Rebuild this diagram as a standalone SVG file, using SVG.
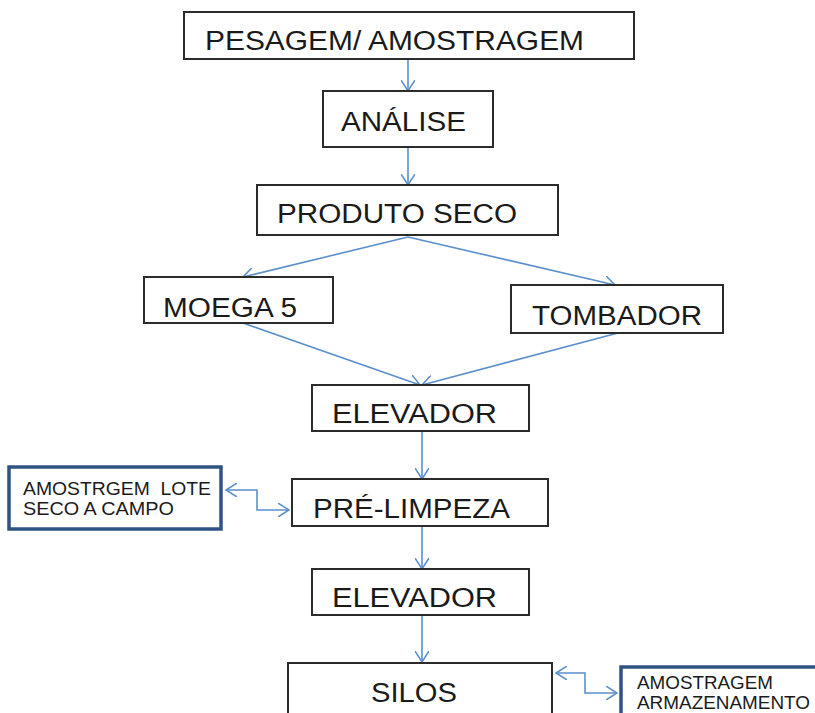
<svg xmlns="http://www.w3.org/2000/svg" width="815" height="713" viewBox="0 0 815 713">
<defs>
<marker id="arr" viewBox="0 0 12 14" refX="11" refY="7" markerWidth="12" markerHeight="14" markerUnits="userSpaceOnUse" orient="auto-start-reverse">
<path d="M0,0 L11,7 L0,14" fill="none" stroke="#5B8FCB" stroke-width="1.5"/>
</marker>
<style>
.box{fill:#fff;stroke:#2b2b2b;stroke-width:2}
.bbox{fill:#fff;stroke:#2F5383;stroke-width:3.5}
.t{font-family:"Liberation Sans",Arial,sans-serif;font-size:27px;fill:#1a1a1a}
.s{font-family:"Liberation Sans",Arial,sans-serif;font-size:18px;fill:#1a1a1a;white-space:pre}
.c{fill:none;stroke:#5B8FCB;stroke-width:1.6;marker-end:url(#arr)}
.d{fill:none;stroke:#5B8FCB;stroke-width:1.6;marker-end:url(#arr);marker-start:url(#arr)}
</style>
</defs>
<rect width="815" height="713" fill="#fff"/>
<g id="connectors">
<path class="c" d="M408,59 L408,91"/>
<path class="c" d="M408,147 L408,185"/>
<path class="c" d="M408,237 L243,277"/>
<path class="c" d="M408,237 L615,285"/>
<path class="c" d="M243,323 L420,385"/>
<path class="c" d="M618,333 L422,385"/>
<path class="c" d="M422,431 L422,479"/>
<path class="c" d="M422,526 L422,569"/>
<path class="c" d="M422,615 L422,662"/>
<path class="d" d="M226,490 L257,490 L257,510 L289,510"/>
<path class="d" d="M556,673 L585,673 L585,693 L617,693"/>
</g>
<g id="pesagem"><rect class="box" x="184" y="12" width="450" height="47"/><text class="t" x="205" y="50" textLength="379" lengthAdjust="spacingAndGlyphs">PESAGEM/ AMOSTRAGEM</text></g>
<g id="analise"><rect class="box" x="323" y="91" width="170" height="56"/><text class="t" x="341" y="131" textLength="125" lengthAdjust="spacingAndGlyphs">ANÁLISE</text></g>
<g id="produto"><rect class="box" x="257" y="185" width="301" height="50"/><text class="t" x="277" y="223" textLength="240" lengthAdjust="spacingAndGlyphs">PRODUTO SECO</text></g>
<g id="moega"><rect class="box" x="144" y="277" width="189" height="46"/><text class="t" x="163" y="317" textLength="134" lengthAdjust="spacingAndGlyphs">MOEGA 5</text></g>
<g id="tombador"><rect class="box" x="511" y="285" width="212" height="48"/><text class="t" x="532" y="325" textLength="170" lengthAdjust="spacingAndGlyphs">TOMBADOR</text></g>
<g id="elevador1"><rect class="box" x="312" y="385" width="217" height="46"/><text class="t" x="332" y="423" textLength="165" lengthAdjust="spacingAndGlyphs">ELEVADOR</text></g>
<g id="amostrgem"><rect class="bbox" x="9" y="467" width="212" height="62"/><text class="s" x="23" y="495" textLength="188" lengthAdjust="spacingAndGlyphs" xml:space="preserve">AMOSTRGEM  LOTE</text><text class="s" x="23" y="515" textLength="151" lengthAdjust="spacingAndGlyphs">SECO A CAMPO</text></g>
<g id="prelimpeza"><rect class="box" x="292" y="479" width="256" height="47"/><text class="t" x="313" y="518" textLength="197" lengthAdjust="spacingAndGlyphs">PRÉ-LIMPEZA</text></g>
<g id="elevador2"><rect class="box" x="312" y="569" width="217" height="46"/><text class="t" x="332" y="607" textLength="165" lengthAdjust="spacingAndGlyphs">ELEVADOR</text></g>
<g id="silos"><rect class="box" x="288" y="663" width="264" height="70"/><text class="t" x="371" y="702" textLength="86" lengthAdjust="spacingAndGlyphs">SILOS</text></g>
<g id="armazenamento"><rect class="bbox" x="621" y="667" width="220" height="70"/><text class="s" x="637" y="689" textLength="136" lengthAdjust="spacingAndGlyphs">AMOSTRAGEM</text><text class="s" x="637" y="709" textLength="173" lengthAdjust="spacingAndGlyphs">ARMAZENAMENTO</text></g>
</svg>
